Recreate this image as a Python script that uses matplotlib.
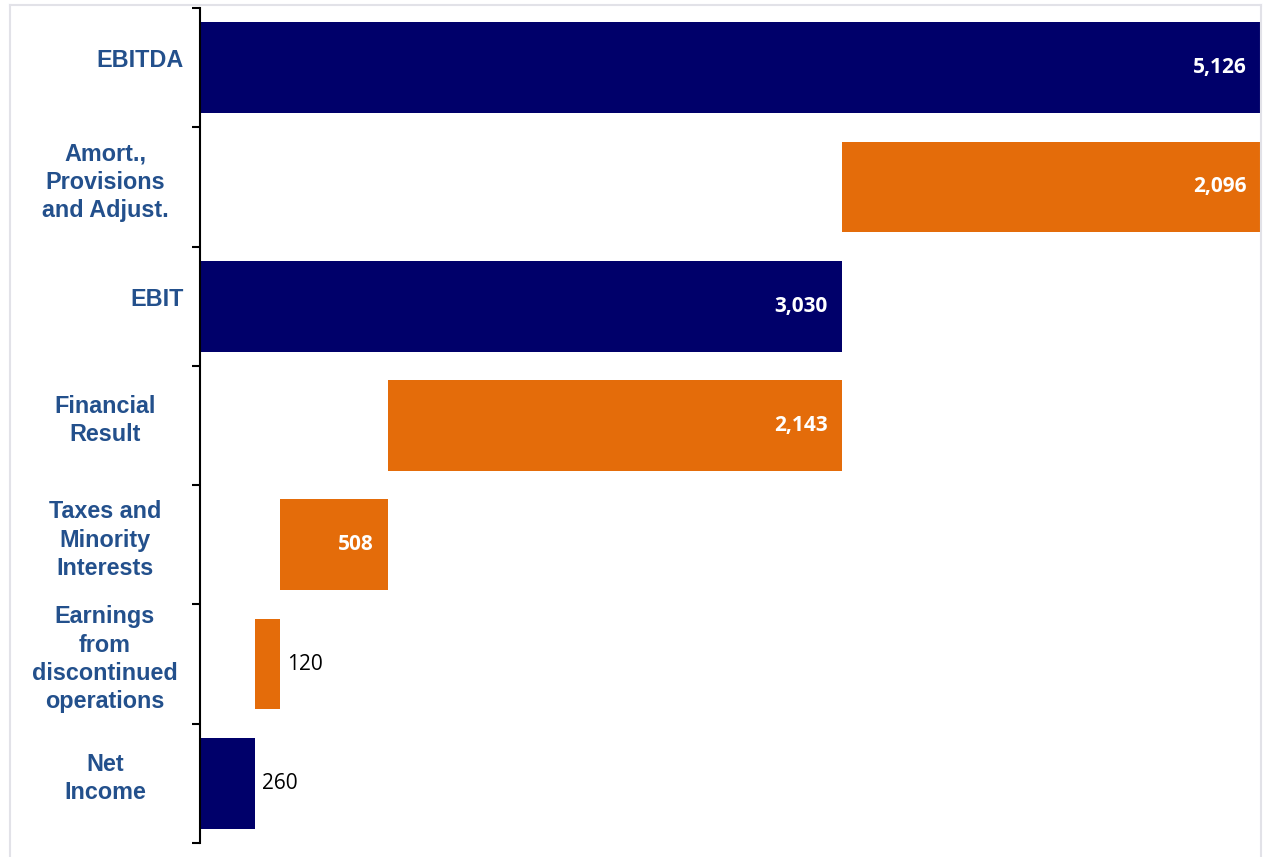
import matplotlib
matplotlib.use("Agg")
import matplotlib.pyplot as plt
from matplotlib.lines import Line2D

# waterfall data (values in millions)
categories = ["EBITDA", "Amort.,\nProvisions\nand Adjust.", "EBIT", "Financial\nResult",
              "Taxes and\nMinority\nInterests", "Earnings\nfrom\ndiscontinued\noperations",
              "Net\nIncome"]
values = [5126, 2096, 3030, 2143, 508, 120, 260]
kinds = ["total", "decrease", "total", "decrease", "decrease", "decrease", "total"]
value_labels = ["5,126", "2,096", "3,030", "2,143", "508", "120", "260"]

NAVY = "#00006A"
ORANGE = "#E46C0A"
LABEL_BLUE = "#23508C"

fig = plt.figure(figsize=(12.64, 8.57), dpi=100)
W, H = 1264, 857
ax = fig.add_axes([200 / W, 1 - 843 / H, 1061 / W, 835 / H])

# compute left edges for the waterfall
lefts = []
level = 0
for v, k in zip(values, kinds):
    if k == "total":
        lefts.append(0)
        level = v
    else:
        level -= v
        lefts.append(level)

ypos = list(range(len(categories)))
colors = [NAVY if k == "total" else ORANGE for k in kinds]
bars = ax.barh(ypos, values, left=lefts, height=0.76, color=colors)

ax.set_xlim(0, 5010)
ax.set_ylim(len(categories) - 0.5, -0.5)

# value labels: inside (white, bold) for wide bars, outside (black) for narrow ones
for y, l, v, lab in zip(ypos, lefts, values, value_labels):
    right = l + v
    if v > 400:
        ax.annotate(lab, (min(right, 5010), y), xytext=(-10, 0), textcoords="offset points",
                    ha="right", va="center", color="white", fontsize=15,
                    fontweight="bold", family="Open Sans")
    else:
        ax.annotate(lab, (right, y), xytext=(5, 0), textcoords="offset points",
                    ha="left", va="center", color="black", fontsize=15,
                    family="Open Sans")

# category labels
tr = ax.get_yaxis_transform()
for y, cat in zip(ypos, categories):
    if "\n" in cat:
        ax.text(-95 / 1061, y - 0.04, cat, transform=tr, ha="center", va="center",
                multialignment="center", fontsize=16.8, fontweight="bold",
                color=LABEL_BLUE, family="Liberation Sans", linespacing=1.3)
    else:
        ax.text(-16 / 1061, y - 0.06, cat, transform=tr, ha="right", va="center",
                fontsize=16.8, fontweight="bold", color=LABEL_BLUE,
                family="Liberation Sans")

# axis styling
for s in ["top", "right", "bottom"]:
    ax.spines[s].set_visible(False)
ax.spines["left"].set_linewidth(1.5)
ax.set_xticks([])
ax.set_yticks([y - 0.5 for y in ypos] + [len(categories) - 0.5])
ax.set_yticklabels([])
ax.tick_params(axis="y", length=6, width=1.5, direction="out")

# light frame around the picture
frame_color = "#E2E2E8"
fig.add_artist(Line2D([10 / W, 1261 / W], [1 - 5 / H, 1 - 5 / H], color=frame_color, lw=1.5))
fig.add_artist(Line2D([10 / W, 10 / W], [0, 1 - 5 / H], color=frame_color, lw=1.5))
fig.add_artist(Line2D([1261 / W, 1261 / W], [0, 1 - 5 / H], color=frame_color, lw=1.5))

fig.savefig("out.png", dpi=100)
